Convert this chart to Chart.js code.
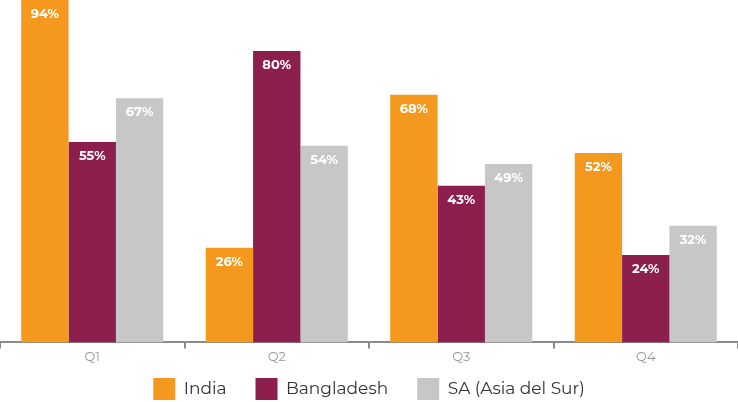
<!DOCTYPE html>
<html>
<head>
<meta charset="utf-8">
<script src="https://cdn.jsdelivr.net/npm/chart.js@4"></script>
<style>
  body { margin: 0; background: #fff; }
  #wrap { width: 738px; height: 402px; }
</style>
</head>
<body>
<div id="wrap"><canvas id="chart" width="738" height="402"></canvas></div>
<script>
const quarters = ["Q1", "Q2", "Q3", "Q4"]
const india = [94, 26, 68, 52]
const bangladesh = [55, 80, 43, 24]
const southAsia = [67, 54, 49, 32]
const seriesNames = ["India", "Bangladesh", "SA (Asia del Sur)"]

const fontFamily = "'Montserrat', 'Open Sans', 'Lato', sans-serif"

// white percent labels just under the top of each bar
const barLabels = {
  id: "barLabels",
  afterDatasetsDraw(chart) {
    const ctx = chart.ctx
    ctx.save()
    ctx.fillStyle = "#fff"
    ctx.font = "bold 13px " + fontFamily
    ctx.textAlign = "center"
    ctx.textBaseline = "middle"
    chart.data.datasets.forEach((ds, i) => {
      chart.getDatasetMeta(i).data.forEach((bar, j) => {
        ctx.fillText(ds.data[j] + "%", bar.x, bar.y + 14)
      })
    })
    ctx.restore()
  }
}

// legend is shorter than chart.js wants, and sits a little higher
const legendFit = {
  id: "legendFit",
  beforeInit(chart) {
    const origFit = chart.legend.fit
    chart.legend.fit = function () {
      origFit.call(this)
      this.height = 36
    }
  },
  afterLayout(chart) {
    chart.legend.top -= 17
    chart.legend.bottom = chart.height
  }
}

const data = {
  labels: quarters,
  datasets: [
    { label: seriesNames[0], data: india, backgroundColor: "#F4991D" },
    { label: seriesNames[1], data: bangladesh, backgroundColor: "#8C1F4D" },
    { label: seriesNames[2], data: southAsia, backgroundColor: "#C7C7C7" }
  ]
}

const config = {
  type: "bar",
  data: data,
  options: {
    responsive: false,
    animation: false,
    layout: { padding: 0 },
    datasets: { bar: { categoryPercentage: 0.77, barPercentage: 1 } },
    scales: {
      x: {
        grid: { offset: true, drawOnChartArea: false, color: "#8a8a8a", tickLength: 6, lineWidth: 2 },
        border: { color: "#8a8a8a", width: 2 },
        ticks: { color: "#999", font: { family: fontFamily, size: 13 }, padding: 1 }
      },
      y: { display: false, min: 0, max: 94 }
    },
    plugins: {
      tooltip: { enabled: false },
      legend: {
        position: "bottom",
        labels: {
          boxWidth: 22,
          boxHeight: 22,
          padding: 29,
          color: "#333",
          font: { family: fontFamily, size: 17 }
        }
      }
    }
  },
  plugins: [barLabels, legendFit]
}

new Chart(document.getElementById("chart"), config)
</script>
</body>
</html>
